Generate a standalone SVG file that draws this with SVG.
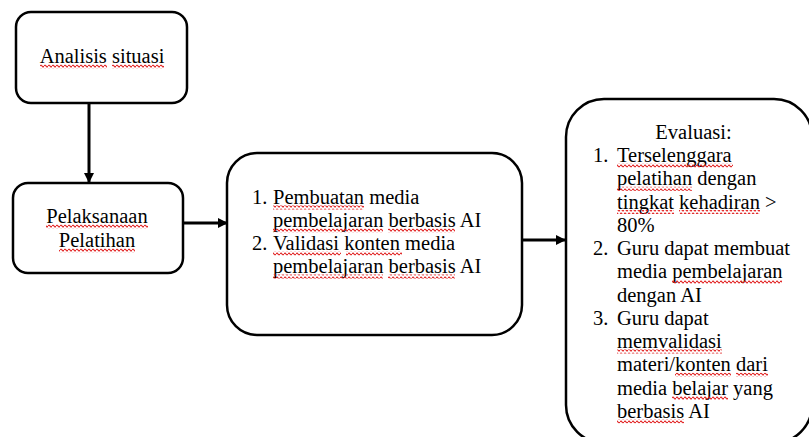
<svg xmlns="http://www.w3.org/2000/svg" width="809" height="437" viewBox="0 0 809 437">
<style>
.box{fill:#fff;stroke:#000;stroke-width:2.5}
.t{font-family:"Liberation Serif","Times New Roman",serif;font-size:20.5px;fill:#000}
.c{text-anchor:middle}
.ln{stroke:#000;stroke-width:3;fill:none}
.sq{fill:url(#wave)}
</style>
<defs>
<pattern id="wave" x="0" y="0" width="4" height="4" patternUnits="userSpaceOnUse">
<path d="M0,2 Q1,0 2,2 T4,2" fill="none" stroke="#e01818" stroke-width="1.1"/>
</pattern>
<marker id="ah" viewBox="0 0 10 10" refX="10" refY="5" markerWidth="10" markerHeight="10" markerUnits="userSpaceOnUse" orient="auto">
<path d="M0,0 L10,5 L0,10 Z" fill="#000"/>
</marker>
</defs>
<g id="connectors">
<line class="ln" x1="89" y1="103" x2="89" y2="183" marker-end="url(#ah)"/>
<line class="ln" x1="183" y1="223" x2="228" y2="223" marker-end="url(#ah)"/>
<line class="ln" x1="522" y1="240" x2="566" y2="240" marker-end="url(#ah)"/>
</g>
<g id="analisis">
<rect class="box" x="16" y="12" width="171" height="91" rx="15"/>
<text class="t c" x="102" y="63">Analisis situasi</text>
<rect class="sq" x="40" y="64.5" width="67" height="4"/>
<rect class="sq" x="112" y="64.5" width="52" height="4"/>
</g>
<g id="pelaksanaan">
<rect class="box" x="13" y="183" width="170" height="90" rx="15"/>
<text class="t c" x="97" y="223">Pelaksanaan</text>
<text class="t c" x="97" y="247">Pelatihan</text>
<rect class="sq" x="46" y="224.5" width="102" height="4"/>
<rect class="sq" x="59" y="248.5" width="76" height="4"/>
</g>
<g id="kegiatan">
<rect class="box" x="227" y="153" width="295" height="182" rx="30"/>
<text class="t" x="252" y="204">1.</text>
<text class="t" x="273" y="204">Pembuatan media</text>
<text class="t" x="273" y="227">pembelajaran berbasis AI</text>
<text class="t" x="252" y="250">2.</text>
<text class="t" x="273" y="250">Validasi konten media</text>
<text class="t" x="273" y="273">pembelajaran berbasis AI</text>
<rect class="sq" x="273" y="205.5" width="91" height="4"/>
<rect class="sq" x="273" y="228.5" width="110" height="4"/>
<rect class="sq" x="388" y="228.5" width="67" height="4"/>
<rect class="sq" x="273" y="251.5" width="68" height="4"/>
<rect class="sq" x="346" y="251.5" width="56" height="4"/>
<rect class="sq" x="273" y="274.5" width="110" height="4"/>
<rect class="sq" x="388" y="274.5" width="67" height="4"/>
</g>
<g id="evaluasi">
<rect class="box" x="566" y="99" width="246" height="344" rx="38"/>
<text class="t c" x="693.5" y="139">Evaluasi:</text>
<text class="t" x="593" y="162">1.</text>
<text class="t" x="617" y="162">Terselenggara</text>
<text class="t" x="617" y="185.3">pelatihan dengan</text>
<text class="t" x="617" y="208.5">tingkat kehadiran &gt;</text>
<text class="t" x="617" y="231.8">80%</text>
<text class="t" x="593" y="255">2.</text>
<text class="t" x="617" y="255">Guru dapat membuat</text>
<text class="t" x="617" y="278.3">media pembelajaran</text>
<text class="t" x="617" y="301.5">dengan AI</text>
<text class="t" x="593" y="324.8">3.</text>
<text class="t" x="617" y="324.8">Guru dapat</text>
<text class="t" x="617" y="348">memvalidasi</text>
<text class="t" x="617" y="371.3">materi/konten dari</text>
<text class="t" x="617" y="394.5">media belajar yang</text>
<text class="t" x="617" y="417.8">berbasis AI</text>
<rect class="sq" x="617" y="163.5" width="116" height="4"/>
<rect class="sq" x="617" y="186.8" width="75" height="4"/>
<rect class="sq" x="617" y="210" width="57" height="4"/>
<rect class="sq" x="679" y="210" width="81" height="4"/>
<rect class="sq" x="672" y="279.8" width="110" height="4"/>
<rect class="sq" x="617" y="349.5" width="105" height="4"/>
<rect class="sq" x="675" y="372.8" width="56" height="4"/>
<rect class="sq" x="736" y="372.8" width="32" height="4"/>
<rect class="sq" x="672" y="396" width="56" height="4"/>
<rect class="sq" x="617" y="419.3" width="67" height="4"/>
</g>
</svg>
